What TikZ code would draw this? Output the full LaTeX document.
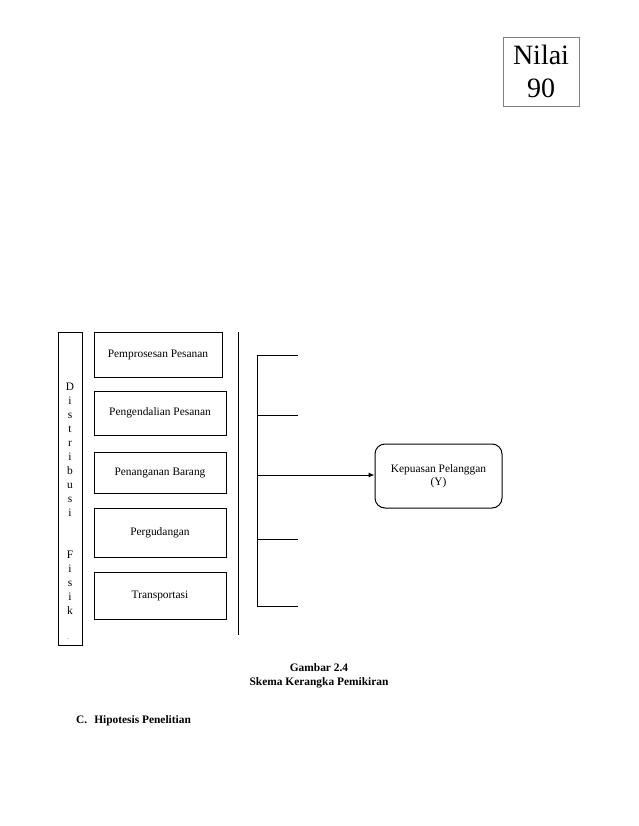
\documentclass[tikz,border=0pt]{standalone}
\usepackage{fontspec}
\setmainfont{Liberation Serif}
\usepackage{tikz}
\usetikzlibrary{arrows.meta,positioning}

\begin{document}
\begin{tikzpicture}[x=1pt,y=-1pt,
  kotak/.style={draw, line width=1pt, minimum width=132pt, inner sep=0pt,
    font=\fontsize{11.4}{13.5}\selectfont},
  garis/.style={line width=1pt},
  teks/.style={font=\fontsize{11.4}{13.5}\selectfont, inner sep=0pt}]
\useasboundingbox (0,0) rectangle (638,826);

% Nilai
\node[draw=gray, line width=0.8pt, minimum width=76pt, minimum height=69pt, align=center,
  font=\fontsize{28}{33}\selectfont, inner sep=0pt] (nilai) at (541,71.5) {Nilai\\90};

% Distribusi Fisik
\node[draw, line width=1pt, minimum width=24pt, minimum height=313pt, inner sep=0pt] (df) at (70,488.5) {};
\node[teks, anchor=north, align=center, font=\fontsize{11.4}{14}\selectfont] (dfteks) at (70,383)
  {D\\i\\s\\t\\r\\i\\b\\u\\s\\i\\[28pt]F\\i\\s\\i\\k};
\node[teks, font=\fontsize{6}{6}\selectfont] (titik) at (68,639) {.};

% Indikator
\node[kotak, minimum width=128pt, minimum height=45pt] (pesan) at (158,354.5) {Pemprosesan Pesanan};
\node[kotak, minimum height=44pt] (kendali) at (160,413) {Pengendalian Pesanan};
\node[kotak, minimum height=41pt] (barang) at (160,472.5) {Penanganan Barang};
\node[kotak, minimum height=49pt] (gudang) at (160,532.5) {Pergudangan};
\node[kotak, minimum height=47pt] (trans) at (160,595.5) {Transportasi};

% Garis pemisah
\coordinate (sepA) at (238,332);
\coordinate (sepB) at (238,635);
\draw[garis] (sepA) -- (sepB);

% Kepuasan Pelanggan
\node[draw, line width=1pt, rounded corners=10pt, minimum width=127pt, minimum height=64pt,
  align=center, font=\fontsize{11.4}{13}\selectfont, inner sep=0pt] (kp) at (438.5,476)
  {Kepuasan Pelanggan\\(Y)};

% Kurung
\coordinate (b1) at (257,355);
\coordinate (b2) at (257,415);
\coordinate (b3) at (257,475);
\coordinate (b4) at (257,539);
\coordinate (b5) at (257,606);
\draw[garis] (b1) -- (b5);
\foreach \b in {b1,b2,b4,b5}
  \draw[garis] (\b) -- ++(41,0);
\draw[garis, -{Latex[length=6pt,width=5pt]}] (b3) -- (b3 -| kp.west);

% Keterangan
\node[teks, align=center, font=\bfseries\fontsize{11.4}{14}\selectfont] (judul) at (319,676)
  {Gambar 2.4\\Skema Kerangka Pemikiran};
\node[teks, anchor=west, font=\bfseries\fontsize{11.4}{14}\selectfont] (hipo) at (76,721)
  {C.\hspace{7pt}Hipotesis Penelitian};
\end{tikzpicture}
\end{document}
